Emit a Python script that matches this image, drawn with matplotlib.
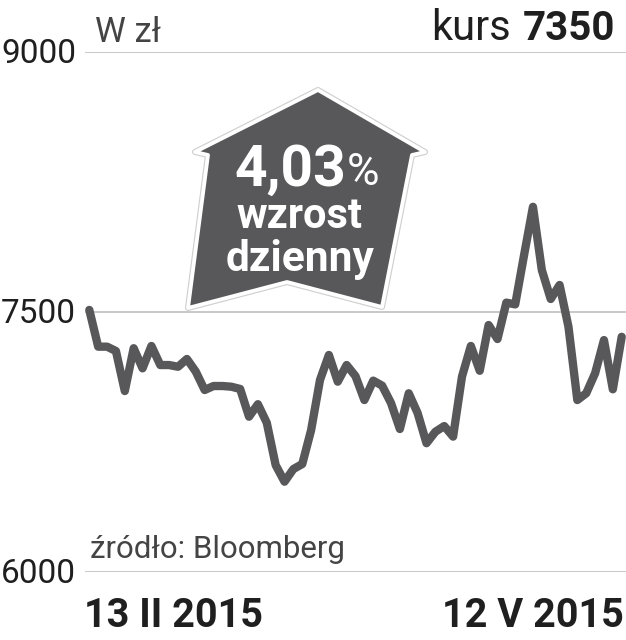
import matplotlib
matplotlib.use("Agg")
import matplotlib.pyplot as plt
from matplotlib.patches import Polygon
from matplotlib.transforms import Affine2D

prices = [7512, 7300, 7300, 7275, 7044, 7291, 7175, 7304, 7194, 7194, 7184, 7229,
          7156, 7050, 7073, 7073, 7069, 7056, 6896, 6968, 6861, 6617, 6521, 6594,
          6623, 6819, 7108, 7252, 7098, 7194, 7130, 6992, 7104, 7075, 6975, 6825,
          7031, 6917, 6743, 6809, 6842, 6781, 7127, 7304, 7161, 7425, 7344, 7554,
          7544, 7829, 8107, 7742, 7575, 7656, 7415, 6992, 7031, 7146, 7338, 7054, 7357]
y_ticks = [6000, 7500, 9000]
y_labels = ["6000", "7500", "9000"]
date_start = "13 II 2015"
date_end = "12 V 2015"

W, H = 626, 640
NARROW = ["Roboto", "DejaVu Sans"]
DARK = "#58585a"
INK = "#1f1f1f"

fig = plt.figure(figsize=(W / 100, H / 100), dpi=100, facecolor="white")
ax = fig.add_axes([85 / W, (H - 572) / H, (W - 85) / W, 520 / H])
ax.set_ylim(6000, 9000)
ax.set_xlim(-0.485, len(prices) - 1 + 0.485)
ax.patch.set_visible(False)
for s in ax.spines.values():
    s.set_visible(False)
ax.set_xticks([])
ax.set_yticks(y_ticks)
ax.set_yticklabels([])
ax.tick_params(length=0)
ax.grid(axis="y", color="#b9b9b9", lw=1.1, zorder=0)
ax.set_axisbelow(True)
ax.plot(range(len(prices)), prices, color=DARK, lw=6.0, solid_joinstyle="round",
        solid_capstyle="round", zorder=3, clip_on=False)

px = Affine2D().scale(1, -1).translate(0, H)  # pixel coordinates, top-left origin


def ptext(x, y, s, **kw):
    kw.setdefault("family", NARROW)
    kw.setdefault("va", "center")
    return fig.text(x, y, s, transform=px, **kw)


arrow = [(318, 90), (425, 152), (412, 155), (382, 307), (287, 282), (188, 308), (208, 155), (195, 152)]
for lw, col in [(8, "#cfcfcf"), (5, "#ffffff")]:
    fig.add_artist(Polygon(arrow, closed=True, transform=px, fc=DARK, ec=col, lw=lw * 0.55,
                           joinstyle="round", zorder=4))

ptext(290, 170, "4,03", color="white", fontsize=41, fontweight="bold", ha="center", zorder=5)
ptext(347, 173, "%", color="white", fontsize=32, ha="left", zorder=5)
ptext(299, 217, "wzrost", color="white", fontsize=30, fontweight="bold", ha="center", zorder=5)
ptext(300, 260, "dzienny", color="white", fontsize=30.5, fontweight="bold", ha="center", zorder=5)

for v, lab in zip(y_ticks, y_labels):
    y = 52 + (9000 - v) * 520 / 3000
    ptext(76, y + 2, lab, color=INK, fontsize=24, ha="right")

ptext(95, 33, "W zł", color="#444444", fontsize=25)
ptext(431, 29, "kurs", color=INK, fontsize=30, ha="left")
ptext(615, 29, "7350", color=INK, fontsize=29, fontweight="bold", ha="right")
ptext(90, 550, "źródło: Bloomberg", color="#444444", fontsize=22.5)
ptext(84, 616, date_start, color=INK, fontsize=28.5, ha="left", fontweight="bold")
ptext(624, 616, date_end, color=INK, fontsize=28.5, ha="right", fontweight="bold")

fig.savefig("out.png", dpi=100, facecolor="white")
